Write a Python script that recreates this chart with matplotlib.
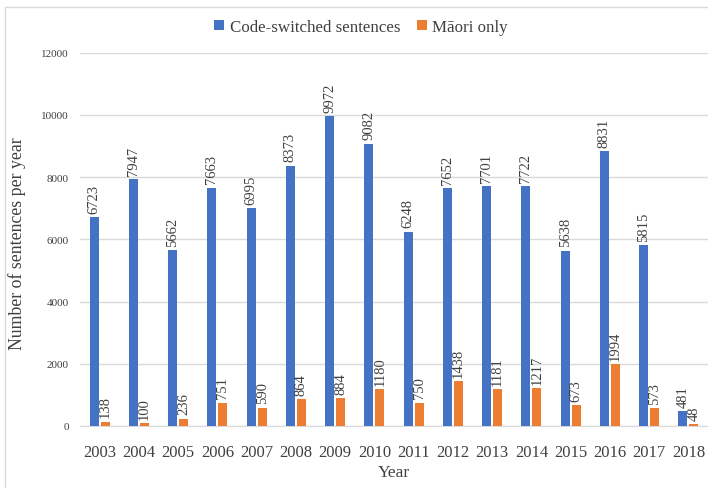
import numpy as np
import matplotlib
matplotlib.use("Agg")
import matplotlib.pyplot as plt
from matplotlib.patches import Rectangle

years = [str(y) for y in range(2003, 2019)]
code_switched = [6723, 7947, 5662, 7663, 6995, 8373, 9972, 9082, 6248, 7652, 7701, 7722, 5638, 8831, 5815, 481]
maori_only = [138, 100, 236, 751, 590, 864, 884, 1180, 750, 1438, 1181, 1217, 673, 1994, 573, 48]

blue = '#4472C4'
orange = '#ED7D31'
grey_txt = '#404040'

plt.rcParams['font.family'] = ['Liberation Serif', 'DejaVu Serif']

fig = plt.figure(figsize=(7.08, 4.89), dpi=100)
ax = fig.add_axes([0.113, 0.127, 0.887, 0.763])

# light frame round the chart area
fig.patches.append(Rectangle((5/708, -0.01), 1.0, 1 - 8/489 + 0.01, transform=fig.transFigure,
                             fill=False, edgecolor='#D9D9D9', linewidth=1))

x = np.arange(len(years))
w = 0.23
off = 0.14
b1 = ax.bar(x - off, code_switched, w, color=blue, label='Code-switched sentences', zorder=3)
b2 = ax.bar(x + off, maori_only, w, color=orange, label='Māori only', zorder=3)

for bars in (b1, b2):
    for r in bars:
        h = r.get_height()
        ax.annotate(str(int(h)), (r.get_x() + r.get_width()/2, h), xytext=(0, 3),
                    textcoords='offset points', rotation=90, ha='center', va='bottom',
                    fontsize=10.5, color=grey_txt)

ax.set_xlim(-0.5, len(years) - 0.5)
ax.set_ylim(0, 12000)
ax.set_yticks(range(0, 12001, 2000))
ax.set_xticks(x)
ax.set_xticklabels(years, fontsize=12, color=grey_txt)
ax.tick_params(axis='y', labelsize=8, colors=grey_txt, length=0, pad=8)
ax.tick_params(axis='x', length=0, pad=13)
ax.grid(axis='y', color='#D9D9D9', linewidth=1, zorder=0)
for s in ['top', 'right', 'left']:
    ax.spines[s].set_visible(False)
ax.spines['bottom'].set_color('#D9D9D9')

ax.set_xlabel('Year', fontsize=12.5, color=grey_txt, labelpad=3)
ax.set_ylabel('Number of sentences per year', fontsize=12.8, color=grey_txt)
ax.yaxis.set_label_coords(-0.086, 0.49)

fig.legend(handles=[b1, b2], loc='center', bbox_to_anchor=(0.51, 0.943), ncol=2, frameon=False,
           fontsize=12.2, handlelength=0.6, handleheight=0.6, handletextpad=0.3, columnspacing=1.0,
           labelcolor=grey_txt)

fig.savefig('out.png', dpi=100)
